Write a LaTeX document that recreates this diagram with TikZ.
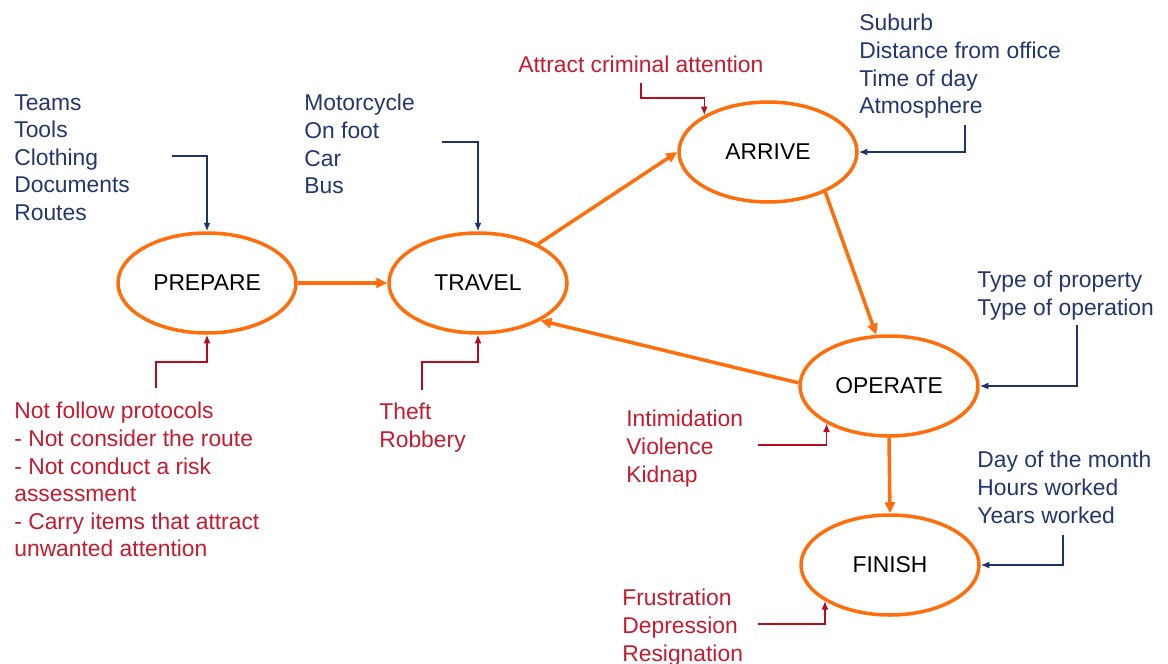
\documentclass[tikz,border=0pt]{standalone}
\usepackage{fontspec}
\setmainfont{Liberation Sans}
\usetikzlibrary{shapes.geometric,arrows.meta}
\definecolor{flow}{RGB}{255,110,10}
\definecolor{navy}{RGB}{35,55,110}
\definecolor{navyline}{RGB}{30,50,110}
\definecolor{risk}{RGB}{200,26,46}
\definecolor{riskline}{RGB}{185,10,30}
\begin{document}
\begin{tikzpicture}[x=0.02cm,y=-0.02cm,
  every node/.style={font=\fontsize{13pt}{15.7pt}\selectfont},
  stage/.style={ellipse,draw=flow,line width=2pt,minimum width=3.56cm,minimum height=2cm,inner sep=0pt,text=black},
  factor/.style={anchor=north west,inner sep=0pt,align=left,text=navy},
  hazard/.style={anchor=north west,inner sep=0pt,align=left,text=risk},
  flowarrow/.style={draw=flow,line width=2pt,-{Triangle[length=0.22cm,width=0.2cm]}},
  factorarrow/.style={draw=navyline,line width=0.85pt,-{Latex[length=0.17cm,width=0.14cm]}},
  hazardarrow/.style={draw=riskline,line width=0.85pt,-{Latex[length=0.17cm,width=0.14cm]}}]
\useasboundingbox (0,0) rectangle (1168,663);

% stages of the journey
\node[stage] (prepare) at (207,283) {PREPARE};
\node[stage] (travel)  at (478,283) {TRAVEL};
\node[stage] (arrive)  at (768,152) {ARRIVE};
\node[stage] (operate) at (889,386) {OPERATE};
\node[stage] (finish)  at (890,565) {FINISH};

% influencing factors
\node[factor] (fprep) at (14,94) {Teams\\Tools\\Clothing\\Documents\\Routes};
\node[factor] (ftrav) at (304,94) {Motorcycle\\On foot\\Car\\Bus};
\node[factor] (farr)  at (859,14) {Suburb\\Distance from office\\Time of day\\Atmosphere};
\node[factor] (fop)   at (977,271) {Type of property\\Type of operation};
\node[factor] (ffin)  at (977,451) {Day of the month\\Hours worked\\Years worked};

% risks
\node[hazard] (rprep) at (14,402) {Not follow protocols\\- Not consider the route\\- Not conduct a risk\\assessment\\- Carry items that attract\\unwanted attention};
\node[hazard] (rtrav) at (379,403) {Theft\\Robbery};
\node[hazard] (rarr)  at (518,56) {Attract criminal attention};
\node[hazard] (rop)   at (626,410) {Intimidation\\Violence\\Kidnap};
\node[hazard] (rfin)  at (622,589) {Frustration\\Depression\\Resignation};

% main flow
\draw[flowarrow] (prepare.east) -- (travel.west);
\draw[flowarrow] (travel.33) -- (arrive.180);
\draw[flowarrow] (arrive.-35) -- (operate.104);
\draw[flowarrow] (operate.178) -- (travel.-31);
\draw[flowarrow] (operate.south) -- (finish.north);

% factor connectors
\coordinate (a1) at (172,156);
\coordinate (a2) at (442,142);
\coordinate (a3) at (965,125);
\coordinate (a4) at (1077,325);
\coordinate (a5) at (1063,535);
\draw[factorarrow] (a1) -| (prepare.north);
\draw[factorarrow] (a2) -| (travel.north);
\draw[factorarrow] (a3) |- (arrive.east);
\draw[factorarrow] (a4) |- (operate.east);
\draw[factorarrow] (a5) |- (finish.east);

% risk connectors
\coordinate (b1) at (156,388);
\coordinate (b2) at (422,390);
\coordinate (b3) at (641,83);
\coordinate (b4) at (758,445);
\coordinate (b5) at (758,624);
\draw[hazardarrow] (b1) -- (156,362) -| (prepare.south);
\draw[hazardarrow] (b2) -- (422,362) -| (travel.south);
\draw[hazardarrow] (b3) -- (641,98) -| (arrive.150);
\draw[hazardarrow] (b4) -| (operate.211);
\draw[hazardarrow] (b5) -| (finish.209);
\end{tikzpicture}
\end{document}
